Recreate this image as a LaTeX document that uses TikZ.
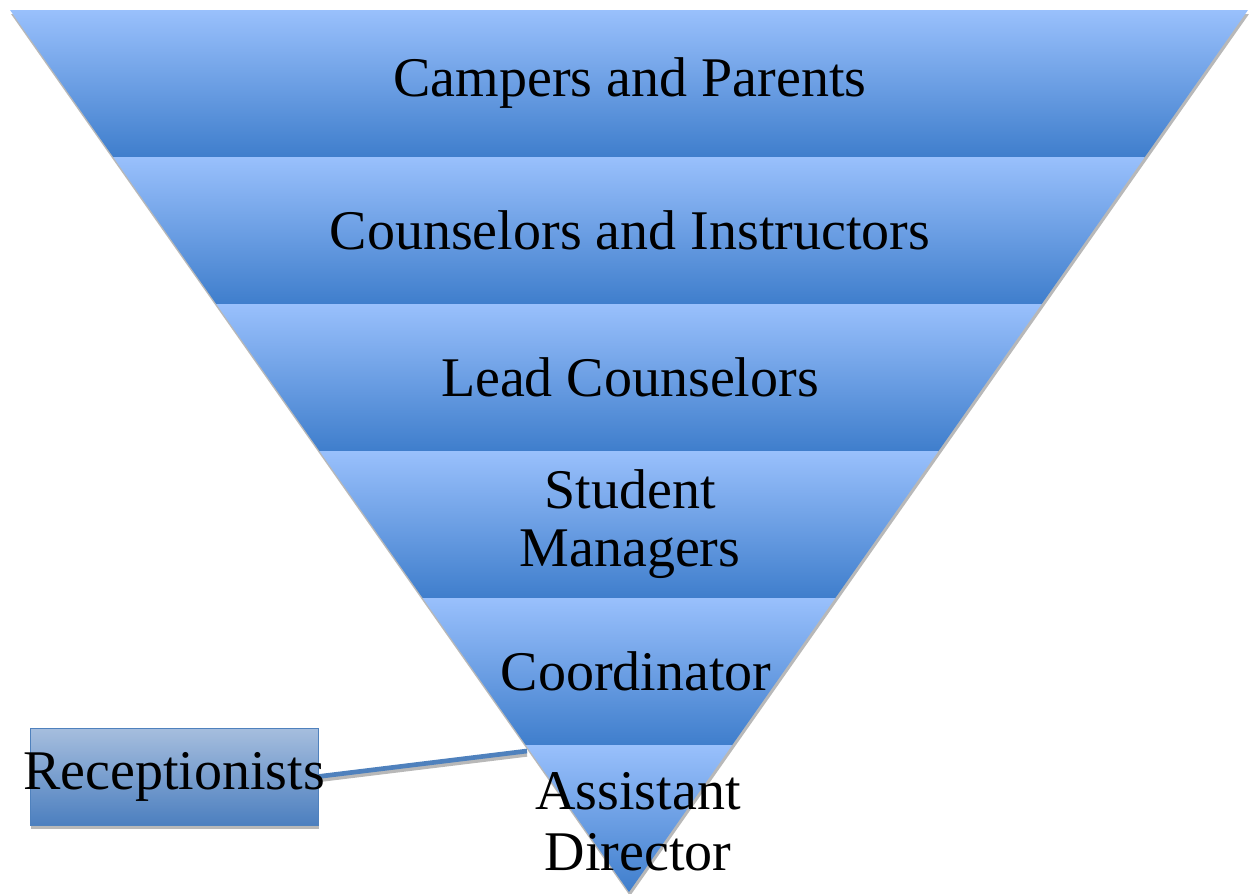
\documentclass[tikz,border=0pt]{standalone}
\usepackage{fontspec}
\setmainfont{Liberation Serif}
\usetikzlibrary{positioning}
\definecolor{bandtop}{RGB}{153,192,252}
\definecolor{bandbot}{RGB}{63,126,204}
\definecolor{rectop}{RGB}{166,190,222}
\definecolor{recbot}{RGB}{76,127,191}
\definecolor{recline}{RGB}{79,129,189}
\tikzset{
  band/.style={top color=bandtop, middle color=bandtop!68!bandbot, bottom color=bandbot},
  bandtext/.style={inner sep=0.75pt, align=center, font=\fontsize{42}{43}\selectfont},
  shadowgray/.style={fill=black!28, draw=none}
}
\begin{document}
\begin{tikzpicture}[x=0.75pt,y=0.75pt,yscale=-1,xscale=1]
\useasboundingbox (0,0) rectangle (1249,893);

%Shape: Triangle shadow
\fill [shadowgray] (11,14) -- (1249,14) -- (630,896) -- cycle ;
%Shape: Band 1
\shade [band] (10,10) -- (1248,10) -- (1144.8,157) -- (113.2,157) -- cycle ;
%Shape: Band 2
\shade [band] (113.2,157) -- (1144.8,157) -- (1041.7,304) -- (216.3,304) -- cycle ;
%Shape: Band 3
\shade [band] (216.3,304) -- (1041.7,304) -- (938.5,451) -- (319.5,451) -- cycle ;
%Shape: Band 4
\shade [band] (319.5,451) -- (938.5,451) -- (835.3,598) -- (422.7,598) -- cycle ;
%Shape: Band 5
\shade [band] (422.7,598) -- (835.3,598) -- (732.2,745) -- (525.8,745) -- cycle ;
%Shape: Band 6
\shade [band] (525.8,745) -- (732.2,745) -- (629,892) -- cycle ;

%Shape: Rectangle shadow
\fill [shadowgray] (31,731) rectangle (319,829) ;
%Shape: Rectangle
\node [draw=recline, line width=0.75, top color=rectop, bottom color=recbot,
       minimum width=216pt, minimum height=72.75pt, inner sep=0pt] (recbox) at (174,776.5) {};
\coordinate (adedge) at (527,751);
%Straight Lines
\draw [black!28, line width=3.5pt] ([yshift=2.5pt]recbox.east) -- ([yshift=2.5pt]adedge) ;
\draw [recline, line width=3.5pt] (recbox.east) -- (adedge) ;

% Text Node
\node [bandtext] (campers) at (630,83) {Campers and Parents};
% Text Node
\node [bandtext] (counselors) at (630,230) {Counselors and Instructors};
% Text Node
\node [bandtext] (lead) at (630,377) {Lead Counselors};
% Text Node
\node [bandtext] (student) at (630,524) {Student\\Managers};
% Text Node
\node [bandtext] (coord) at (636,671) {Coordinator};
% Text Node
\node [bandtext, font=\fontsize{42}{46}\selectfont] (assist) at (638,822) {Assistant\\Director};
% Text Node
\node [bandtext] (rec) at (recbox.center) {Receptionists};

\end{tikzpicture}
\end{document}
